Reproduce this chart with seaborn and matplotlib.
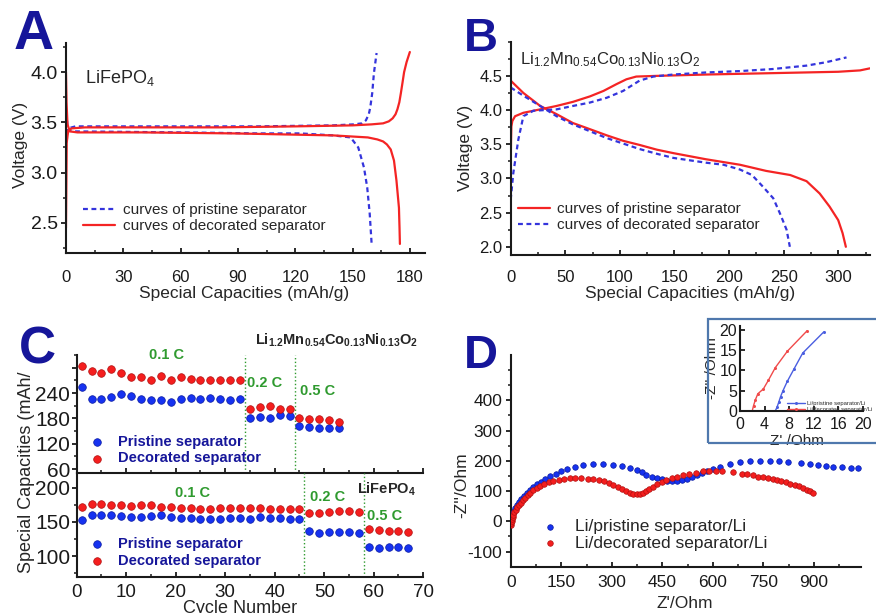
import matplotlib
matplotlib.use("Agg")
import matplotlib.pyplot as plt
from matplotlib.patches import Rectangle
from matplotlib.ticker import MultipleLocator, FixedLocator
import seaborn as sns

# ---------------- Panel A : LiFePO4 charge / discharge ----------------
a_pris_chg_cap = [0.3, 1, 5, 40, 100, 140, 150.7, 155, 157, 158.5, 159.3, 160.3, 161.2, 162.6]
a_pris_chg_v = [3.30, 3.44, 3.46, 3.46, 3.46, 3.47, 3.48, 3.49, 3.52, 3.58, 3.65, 3.79, 3.99, 4.19]
a_pris_dis_cap = [0.2, 1, 5, 60, 100, 122.7, 140, 149, 153, 156, 157.7, 159, 160]
a_pris_dis_v = [3.60, 3.42, 3.41, 3.40, 3.39, 3.39, 3.37, 3.35, 3.25, 3.05, 2.85, 2.59, 2.29]
a_deco_chg_cap = [0, 0.4, 1.2, 3, 10, 40, 80, 120, 150, 160, 166, 169, 171, 172.5,
                  173.5, 174.5, 175.3, 176.2, 177, 178.3, 180]
a_deco_chg_v = [2.45, 3.30, 3.42, 3.44, 3.45, 3.45, 3.45, 3.46, 3.47, 3.48, 3.49, 3.51,
                3.54, 3.58, 3.63, 3.70, 3.79, 3.90, 4.00, 4.10, 4.20]
a_deco_dis_cap = [0, 0.3, 0.8, 2, 6, 40, 88, 140, 158, 163, 166, 168, 170, 171.7, 173,
                  174.3, 174.6, 174.8]
a_deco_dis_v = [4.0, 3.70, 3.48, 3.41, 3.40, 3.40, 3.39, 3.37, 3.35, 3.33, 3.31, 3.28,
                3.23, 3.12, 2.92, 2.65, 2.45, 2.29]

# ---------------- Panel B : Li-rich cathode ----------------
b_pris_chg_cap = [0, 0.3, 0.6, 1.5, 4, 11.6, 27, 42, 57, 72.6, 85, 97, 106, 115, 134,
                  180, 240, 300, 320, 329]
b_pris_chg_v = [3.20, 3.55, 3.76, 3.84, 3.91, 3.96, 4.01, 4.06, 4.12, 4.20, 4.28, 4.38,
                4.45, 4.49, 4.50, 4.52, 4.54, 4.56, 4.58, 4.61]
b_pris_dis_cap = [0, 11.6, 27, 42, 57, 72.6, 88, 103, 118, 134, 149, 179, 210, 234, 256,
                  271, 283, 292, 300, 304, 307]
b_pris_dis_v = [4.43, 4.25, 4.06, 3.94, 3.81, 3.72, 3.63, 3.55, 3.49, 3.42, 3.37, 3.28,
                3.20, 3.11, 3.05, 2.96, 2.78, 2.59, 2.39, 2.20, 2.00]
b_deco_chg_cap = [0, 2.4, 7, 11.6, 20.8, 42, 57, 72.6, 88, 103, 118, 130.6, 149, 179,
                  210, 240, 271, 289, 307.6]
b_deco_chg_v = [2.69, 3.08, 3.57, 3.91, 3.99, 4.01, 4.06, 4.11, 4.18, 4.28, 4.43, 4.49,
                4.52, 4.55, 4.57, 4.60, 4.65, 4.70, 4.77]
b_deco_dis_cap = [0, 11.6, 27, 42, 57, 72.6, 88, 103, 118, 134, 149, 179, 195, 210, 221,
                  231, 240.5, 246.6, 252.7, 255.7]
b_deco_dis_v = [4.33, 4.21, 4.06, 3.91, 3.79, 3.69, 3.59, 3.51, 3.43, 3.36, 3.30, 3.23,
                3.20, 3.13, 3.05, 2.88, 2.71, 2.49, 2.25, 2.00]

# ---------------- Panel C : rate capability ----------------
c_top_cycle = list(range(1, 54, 2))
c_top_pristine = [254, 227, 227, 231, 238, 232, 227, 223, 223, 219, 225, 228, 225, 228,
                  227, 224, 225,
                  180, 184, 182, 188, 186,
                  162, 160, 158, 157, 157]
c_top_decorated = [305, 291, 288, 296, 287, 279, 277, 271, 281, 270, 279, 273, 270, 270,
                   270, 270, 270,
                   201, 206, 209, 203, 202,
                   181, 178, 178, 175, 172]
c_top_breaks = [34, 44]

c_bot_cycle = list(range(1, 68, 2))
c_bot_pristine = [152.7, 159.5, 160.5, 160.5, 158.5, 156.6, 157.6, 158.5, 160, 156.6,
                  156, 155.6, 154.6, 153.7, 154.2, 155.1, 155.6, 153.7, 157.6, 156,
                  155.1, 154.6, 154.6,
                  136.6, 133.2, 134.6, 134.6, 134.6, 133.2,
                  112.7, 111.2, 112.7, 112.7, 111.2]
c_bot_decorated = [172.2, 176, 176, 175, 174, 173, 174, 175, 172.2, 172.2, 171, 171,
                   169, 169, 169.8, 169.8, 170.2, 170.2, 170.2, 168.3, 168.3, 168.8,
                   168.3,
                   163.4, 162.4, 164.4, 166.3, 165.9, 164.4,
                   140, 138, 137, 137, 135.6]
c_bot_breaks = [46, 58]

# ---------------- Panel D : Nyquist plots ----------------
d_pris_re = [1, 2, 4, 7, 10, 14, 18, 24, 30, 38, 47, 57, 67, 78, 90, 103, 118, 133, 150,
             168, 190, 215, 245, 275, 303, 329, 354, 374, 389, 403, 418, 433, 448, 463,
             478, 493, 508, 522, 537, 552, 567, 582, 600, 621, 651, 680, 710, 740, 769,
             797, 824, 863, 888, 913, 936, 957, 982, 1009, 1032]
d_pris_im = [0, 8, 16, 26, 35, 45, 55, 65, 75, 85, 95, 104, 113, 122, 131, 140, 149, 157,
             166, 174, 181, 186, 189, 189, 187, 184, 178, 170, 162, 154, 148, 143, 139,
             135, 133, 133, 136, 140, 146, 152, 159, 166, 173, 181, 189, 195, 198, 200,
             201, 201, 197, 192, 189, 186, 184, 181, 179, 178, 177]
d_deco_re = [1, 2, 3, 4, 6, 8, 11, 15, 19, 24, 30, 36, 43, 50, 58, 67, 77, 88, 100, 113,
             127, 142, 158, 175, 192, 210, 228, 245, 262, 278, 292, 305, 318, 330, 342,
             353, 364, 374, 383, 392, 401, 411, 422, 434, 448, 462, 478, 494, 512, 530,
             550, 570, 590, 610, 628, 661, 685, 700, 718, 735, 750, 765, 778, 790, 803,
             817, 830, 844, 856, 868, 879, 888, 896]
d_deco_im = [-12, -5, 2, 8, 15, 22, 30, 38, 46, 54, 62, 70, 78, 86, 94, 102, 110, 117,
             124, 129, 133, 137, 140, 142, 143, 143, 141, 139, 136, 132, 127, 120, 113,
             106, 99, 94, 91, 90, 91, 95, 101, 108, 115, 122, 129, 136, 142, 148, 153,
             157, 161, 165, 167, 168, 166, 162, 157, 155, 152, 148, 145, 143, 140, 137,
             133, 129, 125, 121, 116, 110, 104, 99, 93]

# inset (high-frequency region)
d_in_pris_re = [5.75, 6.0, 6.3, 6.6, 7.0, 7.7, 8.8, 10.2, 13.6]
d_in_pris_im = [0, 0.8, 2.1, 3.5, 5.0, 7.3, 10.4, 14.3, 19.5]
d_in_deco_re = [2.0, 2.2, 2.5, 2.9, 3.8, 4.6, 5.75, 7.7, 10.9]
d_in_deco_im = [0, 1.25, 2.7, 4.2, 5.4, 7.5, 10.7, 14.75, 19.8]

RED = "#f42424"
BLUE = "#3434dc"
DOT_BLUE = "#1632f0"
DOT_RED = "#f41e1e"
NAVY = "#16169a"
GREEN = "#2f9a2f"

sns.set_theme(style="ticks")
plt.rcParams["font.family"] = ["Liberation Sans", "DejaVu Sans"]
plt.rcParams["mathtext.fontset"] = "custom"
plt.rcParams["mathtext.rm"] = "Liberation Sans"
plt.rcParams["mathtext.it"] = "Liberation Sans:italic"
plt.rcParams["mathtext.bf"] = "Liberation Sans:bold"
plt.rcParams["mathtext.default"] = "regular"
plt.rcParams["axes.unicode_minus"] = False


def origin_axes(ax, xpad=10.5, ypad=2.5, ydir="out", xsize=12, ysize=12):
    sns.despine(ax=ax)
    for side in ("left", "bottom"):
        ax.spines[side].set_linewidth(1.5)
        ax.spines[side].set_color("#1a1a1a")
    ax.tick_params(axis="x", which="both", direction="in", pad=xpad, labelsize=xsize,
                   colors="#1a1a1a")
    ax.tick_params(axis="y", which="both", direction=ydir, pad=ypad, labelsize=ysize,
                   colors="#1a1a1a")
    ax.tick_params(which="major", length=3.5, width=1.3)
    ax.tick_params(which="minor", length=2.2, width=1.1)
    ax.set_facecolor("none")


def curve(ax, x, y, color, dashed, label=None):
    ls = (0, (2.2, 1.6)) if dashed else "-"
    sns.lineplot(x=x, y=y, ax=ax, sort=False, estimator=None, color=color,
                 linestyle=ls, linewidth=1.6, label=label, legend=False)


def dots(ax, x, y, color, edge, s, label=None):
    sns.scatterplot(x=x, y=y, ax=ax, color=color, s=s, edgecolor=edge, linewidth=0.5,
                    label=label, legend=False, zorder=3)


fig = plt.figure(figsize=(8.76, 6.13), dpi=100)
fig.patch.set_facecolor("white")

# ---------------- A ----------------
axA = fig.add_axes([0.0753, 0.5873, 0.410, 0.3426])
curve(axA, a_pris_chg_cap, a_pris_chg_v, BLUE, True, "curves of pristine separator")
curve(axA, a_pris_dis_cap, a_pris_dis_v, BLUE, True)
curve(axA, a_deco_chg_cap, a_deco_chg_v, RED, False, "curves of decorated separator")
curve(axA, a_deco_dis_cap, a_deco_dis_v, RED, False)
axA.set_xlim(0, 188)
axA.set_ylim(2.2, 4.29)
axA.xaxis.set_major_locator(MultipleLocator(30))
axA.xaxis.set_minor_locator(MultipleLocator(15))
axA.yaxis.set_major_locator(FixedLocator([2.5, 3.0, 3.5, 4.0]))
axA.yaxis.set_minor_locator(MultipleLocator(0.25))
origin_axes(axA, xpad=12, ysize=14)
axA.set_xlabel("Special Capacities (mAh/g)", fontsize=12.5)
axA.set_ylabel("Voltage (V)", fontsize=12.5)
axA.xaxis.set_label_coords(0.496, -0.155)
axA.yaxis.set_label_coords(-0.105, 0.514)
axA.text(0.053, 0.835, r"LiFePO$_4$", transform=axA.transAxes, fontsize=13,
         va="center", ha="left")
axA.legend(loc="lower left", bbox_to_anchor=(0.047, 0.095), frameon=False,
           fontsize=11, borderpad=0, borderaxespad=0, handlelength=2.1,
           handletextpad=0.5, labelspacing=0.12)

# ---------------- B ----------------
axB = fig.add_axes([0.583, 0.584, 0.410, 0.348])
curve(axB, b_pris_chg_cap, b_pris_chg_v, RED, False, "curves of pristine separator")
curve(axB, b_pris_dis_cap, b_pris_dis_v, RED, False)
curve(axB, b_deco_chg_cap, b_deco_chg_v, BLUE, True, "curves of decorated separator")
curve(axB, b_deco_dis_cap, b_deco_dis_v, BLUE, True)
axB.set_xlim(0, 329)
axB.set_ylim(1.88, 5.0)
axB.xaxis.set_major_locator(MultipleLocator(50))
axB.xaxis.set_minor_locator(MultipleLocator(25))
axB.yaxis.set_major_locator(FixedLocator([2.0, 2.5, 3.0, 3.5, 4.0, 4.5]))
axB.yaxis.set_minor_locator(MultipleLocator(0.25))
origin_axes(axB, xpad=11)
axB.set_xlabel("Special Capacities (mAh/g)", fontsize=12.5)
axB.set_ylabel("Voltage (V)", fontsize=12.5)
axB.xaxis.set_label_coords(0.5, -0.145)
axB.yaxis.set_label_coords(-0.105, 0.5)
axB.text(0.026, 0.914, r"Li$_{1.2}$Mn$_{0.54}$Co$_{0.13}$Ni$_{0.13}$O$_2$",
         transform=axB.transAxes, fontsize=12, va="center", ha="left")
axB.legend(loc="lower left", bbox_to_anchor=(0.02, 0.108), frameon=False,
           fontsize=11, borderpad=0, borderaxespad=0, handlelength=2.1,
           handletextpad=0.46, labelspacing=0.12)

# ---------------- C ----------------
axCt = fig.add_axes([0.0876, 0.2279, 0.3955, 0.193])
axCb = fig.add_axes([0.0876, 0.0592, 0.3955, 0.1687], sharex=axCt)
dots(axCt, c_top_cycle, c_top_pristine, DOT_BLUE, "#0a1aa0", 30, "Pristine separator")
dots(axCt, c_top_cycle, c_top_decorated, DOT_RED, "#b01010", 30, "Decorated separator")
dots(axCb, c_bot_cycle, c_bot_pristine, DOT_BLUE, "#0a1aa0", 30, "Pristine separator")
dots(axCb, c_bot_cycle, c_bot_decorated, DOT_RED, "#b01010", 30, "Decorated separator")
for x in c_top_breaks:
    axCt.axvline(x, color=GREEN, linestyle=":", linewidth=1.0)
for x in c_bot_breaks:
    axCb.axvline(x, color=GREEN, linestyle=":", linewidth=1.0)
axCt.set_xlim(0, 70)
axCt.set_ylim(50, 330)
axCb.set_ylim(70, 221)
axCt.xaxis.set_major_locator(MultipleLocator(10))
axCt.xaxis.set_minor_locator(MultipleLocator(5))
axCt.yaxis.set_major_locator(FixedLocator([60, 120, 180, 240, 300]))
axCt.yaxis.set_minor_locator(MultipleLocator(30))
axCb.yaxis.set_major_locator(FixedLocator([100, 150, 200]))
axCb.yaxis.set_minor_locator(MultipleLocator(25))
origin_axes(axCt, xpad=6, ypad=1.2, xsize=13.5, ysize=15)
origin_axes(axCb, xpad=5, ypad=1.2, xsize=13.5, ysize=15)
axCt.tick_params(axis="x", labelbottom=False)
axCt.set_yticklabels(["60", "120", "180", "240", ""])
axCt.set_xlabel("")
axCt.set_ylabel("")
axCb.set_ylabel("")
axCb.set_xlabel("Cycle Number", fontsize=13)
axCb.xaxis.set_label_coords(0.471, -0.222)
fig.text(27 / 876, 1 - 472 / 613, "Special Capacities (mAh/", rotation=90,
         ha="center", va="center", fontsize=13)
for ax in (axCt, axCb):
    ax.legend(loc="lower left", bbox_to_anchor=(0.025, 0.066 if ax is axCt else 0.089),
              frameon=False, borderpad=0, borderaxespad=0, handlelength=1.6,
              handletextpad=0.64, labelspacing=0.2,
              prop={"size": 10.5, "weight": "bold"}, labelcolor=NAVY)
tb = dict(color=GREEN, fontsize=10.5, fontweight="bold", ha="center", va="center")
axCt.text(18.2, 1.0, "0.1 C", transform=axCt.get_xaxis_transform(), **tb)
axCt.text(38.0, 0.763, "0.2 C", transform=axCt.get_xaxis_transform(), **tb)
axCt.text(48.7, 0.697, "0.5 C", transform=axCt.get_xaxis_transform(), **tb)
axCb.text(23.5, 0.81, "0.1 C", transform=axCb.get_xaxis_transform(), **tb)
axCb.text(50.7, 0.77, "0.2 C", transform=axCb.get_xaxis_transform(), **tb)
axCb.text(62.3, 0.587, "0.5 C", transform=axCb.get_xaxis_transform(), **tb)
axCt.text(68.9, 1.127, r"$\mathbf{Li_{1.2}Mn_{0.54}Co_{0.13}Ni_{0.13}O_2}$",
          transform=axCt.get_xaxis_transform(), fontsize=10.5, ha="right",
          va="center", clip_on=False)
axCb.text(68.6, 0.85, r"$\mathbf{LiFePO_4}$", transform=axCb.get_xaxis_transform(),
          fontsize=10.5, ha="right", va="center")

# ---------------- D ----------------
axD = fig.add_axes([0.583, 0.0755, 0.400, 0.3454])
dots(axD, d_pris_re, d_pris_im, DOT_BLUE, "#0a1aa0", 16, "Li/pristine separator/Li")
dots(axD, d_deco_re, d_deco_im, DOT_RED, "#b01010", 16, "Li/decorated separator/Li")
axD.set_xlim(0, 1040)
axD.set_ylim(-150, 550)
axD.xaxis.set_major_locator(FixedLocator([0, 150, 300, 450, 600, 750, 900]))
axD.xaxis.set_minor_locator(MultipleLocator(75))
axD.yaxis.set_major_locator(FixedLocator([-100, 0, 100, 200, 300, 400]))
axD.yaxis.set_minor_locator(FixedLocator([-50, 50, 150, 250, 350, 450, 500]))
origin_axes(axD, xpad=6, ypad=2.5, xsize=12.5, ysize=12.5)
axD.set_xlabel("Z'/Ohm", fontsize=12.5)
axD.set_ylabel("-Z''/Ohm", fontsize=12.5)
axD.xaxis.set_label_coords(0.497, -0.138)
axD.yaxis.set_label_coords(-0.118, 0.386)
axD.legend(loc="lower left", bbox_to_anchor=(0.072, 0.074), frameon=False,
           fontsize=12.5, borderpad=0, borderaxespad=0, handlelength=1.6,
           handletextpad=0.64, labelspacing=0.1)

# inset
fig.add_artist(Rectangle((707.7 / 876, 1 - 442.7 / 613), 0.25, 123.7 / 613,
                         transform=fig.transFigure, fill=False, edgecolor="#4f78ad",
                         linewidth=1.6))
axI = fig.add_axes([740 / 876, 1 - 410.7 / 613, 123 / 876, 84.7 / 613])
sns.lineplot(x=d_in_pris_re, y=d_in_pris_im, ax=axI, sort=False, estimator=None,
             color="#4a5ee0", linewidth=1.0, marker="o", markersize=2.2,
             markeredgewidth=0, label="Li/pristine separator/Li", legend=False)
sns.lineplot(x=d_in_deco_re, y=d_in_deco_im, ax=axI, sort=False, estimator=None,
             color="#f04a4a", linewidth=1.0, marker="o", markersize=2.2,
             markeredgewidth=0, label="Li/decorated separator/Li", legend=False)
axI.set_xlim(0, 20)
axI.set_ylim(0, 21)
axI.xaxis.set_major_locator(MultipleLocator(4))
axI.yaxis.set_major_locator(MultipleLocator(5))
origin_axes(axI, xpad=4.5, ypad=2, xsize=11.5, ysize=11.5)
axI.tick_params(axis="y", direction="in")
axI.set_xlabel("Z' /Ohm", fontsize=11)
axI.set_ylabel("-Z'' /Ohm", fontsize=11)
axI.xaxis.set_label_coords(0.46, -0.28)
axI.yaxis.set_label_coords(-0.17, 0.5)
axI.legend(loc="lower left", bbox_to_anchor=(0.38, -0.02), frameon=False,
           fontsize=4.2, borderpad=0, borderaxespad=0, handlelength=3.2,
           handletextpad=0.3, labelspacing=0.3)

# panel letters
letter = dict(color=NAVY, fontweight="black", ha="center", va="center")
fig.text(34 / 876, 1 - 35 / 613, "A", fontsize=40, **letter)
fig.text(481 / 876, 1 - 39 / 613, "B", fontsize=34, **letter)
fig.text(37.5 / 876, 1 - 350 / 613, "C", fontsize=37, **letter)
fig.text(481 / 876, 1 - 356 / 613, "D", fontsize=34, **letter)

fig.savefig("out.png", dpi=100, facecolor="white")
